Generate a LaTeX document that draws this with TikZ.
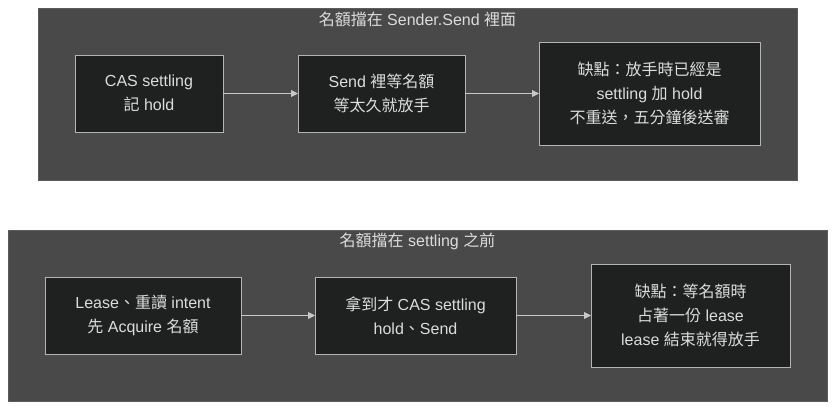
\documentclass[tikz,border=0pt]{standalone}
\usepackage{fontspec}
\setmainfont{Liberation Sans}
\newfontfamily\cjk{Noto Sans CJK TC}
\usetikzlibrary{arrows.meta}
\definecolor{clfill}{HTML}{494949}
\definecolor{cldraw}{HTML}{5C5C5C}
\definecolor{boxfill}{HTML}{1F2020}
\definecolor{boxdraw}{HTML}{B4B4B4}
\definecolor{txt}{HTML}{DCDCDC}
\definecolor{arr}{HTML}{C8C8C8}
\begin{document}
\begin{tikzpicture}[x=1pt,y=-1pt,
  cluster/.style={draw=cldraw,fill=clfill,line width=0.8pt,inner sep=0pt,outer sep=0pt},
  ctitle/.style={text=txt,font=\fontsize{16}{24}\selectfont,inner sep=0pt},
  box/.style={draw=boxdraw,fill=boxfill,line width=0.9pt,inner sep=0pt,outer sep=0pt,
    text=txt,align=center,font=\fontsize{16}{24}\selectfont},
  link/.style={draw=arr,line width=0.9pt,-{Triangle[length=7pt,width=7pt]}}]
\useasboundingbox (0,0) rectangle (835,410);
% top cluster
\node[cluster,minimum width=759,minimum height=172] (c1) at (417.5,94) {};
\node[ctitle] (t1) at (417.5,19) {{\cjk 名額擋在} Sender.Send {\cjk 裡面}};
\node[box,minimum width=148,minimum height=77] (a1) at (149,93.5) {CAS settling\\{\cjk 記} hold};
\node[box,minimum width=167,minimum height=77] (a2) at (381.5,93.5) {Send {\cjk 裡等名額}\\{\cjk 等太久就放手}};
\node[box,minimum width=221,minimum height=103] (a3) at (649.5,93.5) {{\cjk 缺點：放手時已經是}\\settling {\cjk 加} hold\\{\cjk 不重送，五分鐘後送審}};
\draw[link] (a1) -- (a2);
\draw[link] (a2) -- (a3);
% bottom cluster
\node[cluster,minimum width=819,minimum height=171] (c2) at (417.5,315.5) {};
\node[ctitle] (t2) at (417.5,241) {{\cjk 名額擋在} settling {\cjk 之前}};
\node[box,minimum width=196,minimum height=77] (b1) at (143,315.5) {Lease{\cjk 、重讀} intent\\{\cjk 先} Acquire {\cjk 名額}};
\node[box,minimum width=201,minimum height=77] (b2) at (415.5,315.5) {{\cjk 拿到才} CAS settling\\hold{\cjk 、}Send};
\node[box,minimum width=199,minimum height=103] (b3) at (690.5,315.5) {{\cjk 缺點：等名額時}\\{\cjk 占著一份} lease\\lease {\cjk 結束就得放手}};
\draw[link] (b1) -- (b2);
\draw[link] (b2) -- (b3);
\end{tikzpicture}
\end{document}
